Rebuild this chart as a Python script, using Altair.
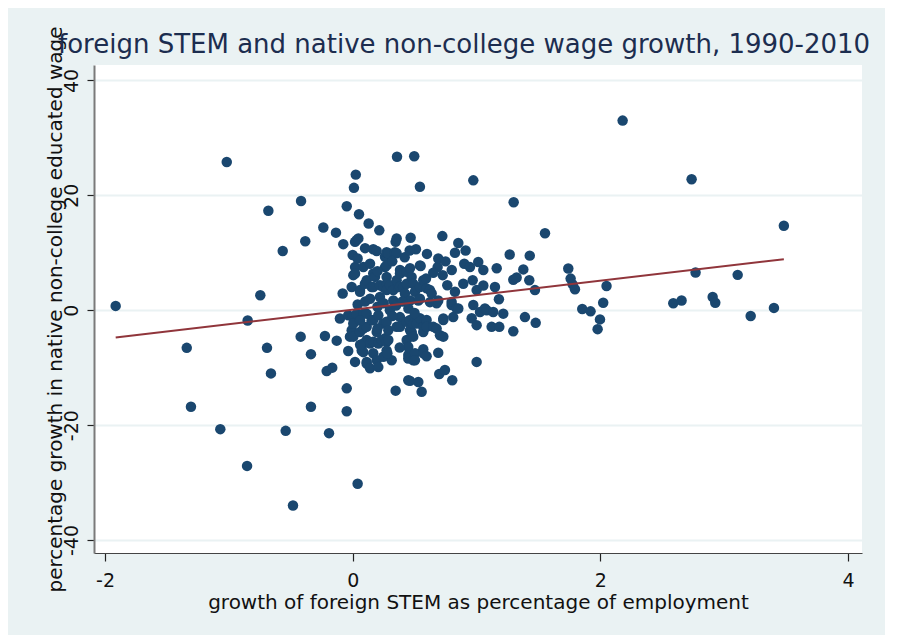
import altair as alt
import pandas as pd

# growth of foreign STEM (% of employment) and % growth in native non-college wage
xs = [
    -1.914, -1.34, -1.306, -1.069, -1.017, -0.853, -0.848, -0.746, -0.681, -0.692,
    -0.66, -0.565, -0.541, -0.482, -0.417, -0.42, -0.383, -0.337, -0.337, -0.237,
    -0.224, -0.21, -0.191, -0.165, -0.135, -0.129, -0.103, -0.081, -0.076, -0.048,
    -0.048, -0.048, -0.036, -0.036, -0.022, -0.008, -0.008, 0.0, 0.0, 0.005,
    0.005, 0.005, 0.01, 0.025, 0.019, 0.019, 0.019, 0.019, 0.032, 0.032,
    0.04, 0.046, 0.051, 0.059, 0.059, 0.059, 0.073, 0.086, 0.086, 0.086,
    0.086, 0.086, 0.099, 0.113, 0.113, 0.113, 0.113, 0.113, 0.113, 0.129,
    0.14, 0.14, 0.14, 0.14, 0.153, 0.153, 0.166, 0.166, 0.166, 0.166,
    0.166, 0.166, 0.18, 0.194, 0.194, 0.194, 0.207, 0.207, 0.207, 0.215,
    0.22, 0.22, 0.234, 0.247, 0.247, 0.247, 0.261, 0.261, 0.261, 0.274,
    0.274, 0.274, 0.274, 0.274, 0.274, 0.274, 0.274, 0.288, 0.288, 0.288,
    0.301, 0.315, 0.328, 0.328, 0.341, 0.347, 0.347, 0.355, 0.355, 0.355,
    0.355, 0.358, 0.368, 0.382, 0.382, 0.382, 0.382, 0.382, 0.408, 0.422,
    0.436, 0.436, 0.436, 0.436, 0.449, 0.449, 0.449, 0.449, 0.463, 0.463,
    0.463, 0.463, 0.463, 0.468, 0.476, 0.476, 0.476, 0.489, 0.489, 0.489,
    0.489, 0.497, 0.503, 0.503, 0.503, 0.511, 0.517, 0.53, 0.53, 0.543,
    0.543, 0.543, 0.543, 0.543, 0.549, 0.557, 0.57, 0.57, 0.57, 0.57,
    0.57, 0.592, 0.597, 0.597, 0.597, 0.597, 0.624, 0.624, 0.638, 0.651,
    0.678, 0.678, 0.686, 0.691, 0.691, 0.691, 0.699, 0.705, 0.724, 0.727,
    0.732, 0.732, 0.732, 0.745, 0.764, 0.799, 0.799, 0.804, 0.812, 0.826,
    0.826, 0.84, 0.853, 0.853, 0.893, 0.901, 0.912, 0.947, 0.961, 0.969,
    0.974, 0.974, 1.001, 1.001, 1.001, 1.014, 1.028, 1.055, 1.055, 1.068,
    1.082, 1.122, 1.135, 1.149, 1.163, 1.181, 1.184, 1.216, 1.268, 1.297,
    1.297, 1.3, 1.324, 1.378, 1.391, 1.43, 1.426, 1.472, 1.478, 1.553,
    1.741, 1.76, 1.776, 1.795, 1.854, 1.921, 1.978, 1.997, 2.023, 2.05,
    2.18, 2.589, 2.656, 2.737, 2.769, 2.907, 2.928, 3.109, 3.214, 3.402,
    3.482,
    0.04, 0.1, 0.2, 0.25, 0.3, 0.35, 0.4, 0.45, 0.06, 0.2,
    0.32, 0.5, 0.38, 0.28, 0.06, 0.2, 0.32, 0.04, 0.1, 0.42,
    0.46, 0.6, 0.65, 0.8, 0.75,
]
ys = [
    0.75, -6.55, -16.8, -20.7, 25.8, -27.1, -1.8, 2.6, 17.3, -6.55,
    -11.0, 10.3, -21.0, -34.0, 19.0, -4.6, 12.0, -7.65, -16.8, 14.4,
    -4.5, -10.6, -21.4, -10.0, 13.5, -5.3, -1.45, 2.9, 11.5, 18.1,
    -13.6, -17.6, -0.87, -7.1, -4.6, -3.5, 4.05, 9.6, -1.2, 6.1,
    -2.3, -4.6, 21.3, 23.6, 7.5, 6.4, 11.9, -9.0, 12.2, -0.6,
    -30.2, 12.5, 16.7, 3.5, -3.8, 3.2, -7.0, 7.5, -0.6, -3.2,
    -5.8, -7.3, 4.6, 5.2, -0.6, -2.9, -5.2, -9.0, -9.3, 15.1,
    8.1, 2.0, -5.8, -10.1, 4.05, -1.74, 10.6, 6.4, 4.05, -1.7,
    -5.5, -7.5, 5.8, 10.3, -3.8, -8.7, -0.87, -5.8, -9.9, 13.9,
    2.3, 4.35, -5.2, 4.05, -2.3, -8.1, 9.3, 7.5, -4.9, 10.1,
    7.8, 5.8, 4.6, 3.5, -2.0, -5.5, -7.0, 9.9, -3.5, -5.2,
    4.35, -8.7, 3.5, 1.7, 10.1, 11.9, -14.0, 12.5, 9.9, 5.2,
    -2.9, 26.7, 4.05, 7.0, 6.4, 4.05, -1.2, -2.9, 4.05, 2.9,
    6.7, 4.6, -2.0, -5.2, -7.8, -6.4, -8.4, -12.2, 7.3, 1.7,
    -1.7, -3.5, -12.3, 12.6, 5.8, -3.8, -4.05, 4.6, -2.3, -4.6,
    -8.7, 26.8, 3.2, -7.5, -8.7, 10.6, -2.3, 1.7, -12.5, 21.5,
    7.8, 4.05, 2.0, -1.4, 7.7, -14.2, 5.2, -2.9, -3.8, -6.8,
    -7.5, 5.5, 3.8, -1.7, -2.9, -8.0, 3.5, 1.4, 2.9, -2.9,
    1.2, -3.2, 7.5, 9.0, 1.7, -7.4, -11.1, -4.35, 12.9, 6.1,
    -1.45, -1.7, -4.6, -10.4, 4.35, 0.9, 1.45, -12.2, -1.2, 10.0,
    3.2, 0.3, 11.7, 0.3, 4.6, 8.1, 10.4, 7.5, -1.4, 5.2,
    22.6, 0.9, -2.6, -9.0, 3.5, 8.4, -0.3, 7.0, 4.3, 0.3,
    0.0, -2.9, -0.3, 4.05, 7.3, 1.9, -2.9, -0.6, 9.7, 5.3,
    -3.65, 18.8, 5.7, 7.1, -1.2, 9.5, 5.2, 3.5, -2.2, 13.4,
    7.25, 5.5, 4.5, 3.65, 0.2, -0.2, -3.3, -1.6, 1.3, 4.2,
    33.0, 1.2, 1.7, 22.8, 6.55, 2.3, 1.3, 6.15, -1.0, 0.4,
    14.7,
    1.0, 1.5, 0.6, 1.2, 0.0, 0.8, 1.5, 0.3, -1.8, -3.2,
    -1.0, -0.5, -6.5, -7.5, -6.0, 6.8, 8.5, 9.0, 10.8, 9.2,
    10.4, 9.8, 6.5, 7.0, 8.5,
]

# fitted line end points
fit_x = [-1.914, 3.482]
fit_y = [-4.75, 8.87]

x_ticks = [-2, 0, 2, 4]
y_ticks = [-40, -20, 0, 20, 40]

title_text = "foreign STEM and native non-college wage growth, 1990-2010"
x_title = "growth of foreign STEM as percentage of employment"
y_title = "percentage growth in native non-college educated wage"

pts = pd.DataFrame({"x": xs, "y": ys})
fit = pd.DataFrame({"x": fit_x, "y": fit_y})

FONT = "DejaVu Sans"
LABEL_EXPR = "datum.value < 0 ? '-' + abs(datum.value) : '' + datum.value"

xscale = alt.Scale(domain=[-2.089, 4.113], nice=False, zero=False)
yscale = alt.Scale(domain=[-42.26, 42.68], nice=False, zero=False)

xaxis = alt.Axis(
    values=x_ticks, grid=False, title=x_title, labelExpr=LABEL_EXPR,
    domainColor="#444444", domainWidth=1.2,
    tickColor="#222222", tickSize=8, tickWidth=1.2,
    labelFont=FONT, labelFontSize=19, labelColor="#111111", labelPadding=10,
    labelOverlap=False, labelFlush=False,
    titleFont=FONT, titleFontSize=20, titleFontWeight="normal", titleColor="#111111",
    titleX=384, titleY=55, titleBaseline="alphabetic", titleAlign="center",
)
yaxis = alt.Axis(
    values=y_ticks, grid=True, gridColor="#EAF2F3", gridWidth=2, title=y_title,
    labelExpr=LABEL_EXPR,
    domainColor="#7a7a7a", domainWidth=2,
    tickColor="#222222", tickSize=7, tickWidth=1.2,
    labelFont=FONT, labelFontSize=19, labelColor="#111111", labelPadding=10,
    labelAngle=270, labelAlign="center", labelBaseline="alphabetic",
    labelOverlap=False, labelFlush=False,
    titleFont=FONT, titleFontSize=20, titleFontWeight="normal", titleColor="#111111",
    titleAngle=270, titleX=-33, titleY=244, titleBaseline="alphabetic", titleAlign="center",
)

points = alt.Chart(pts).mark_circle(size=110, color="#1A476F", opacity=1).encode(
    x=alt.X("x:Q", scale=xscale, axis=xaxis),
    y=alt.Y("y:Q", scale=yscale, axis=yaxis),
)
line = alt.Chart(fit).mark_line(color="#90353B", strokeWidth=2).encode(
    x=alt.X("x:Q", scale=xscale),
    y=alt.Y("y:Q", scale=yscale),
)

chart = (
    alt.layer(points, line)
    .properties(
        width=768,
        height=488,
        background="#EAF2F3",
        padding={"left": 86, "top": 57, "right": 23, "bottom": 82},
        autosize=alt.AutoSizeParams(type="none"),
        title=alt.TitleParams(
            text=title_text, anchor="start", frame="group", dx=-36, dy=32,
            font=FONT, fontSize=26,
            fontWeight="normal", color="#1C2D4F", offset=0,
        ),
    )
    .configure_view(fill="white", strokeWidth=0)
)

chart.save("out.html", embed_options={"renderer": "svg", "actions": False})
